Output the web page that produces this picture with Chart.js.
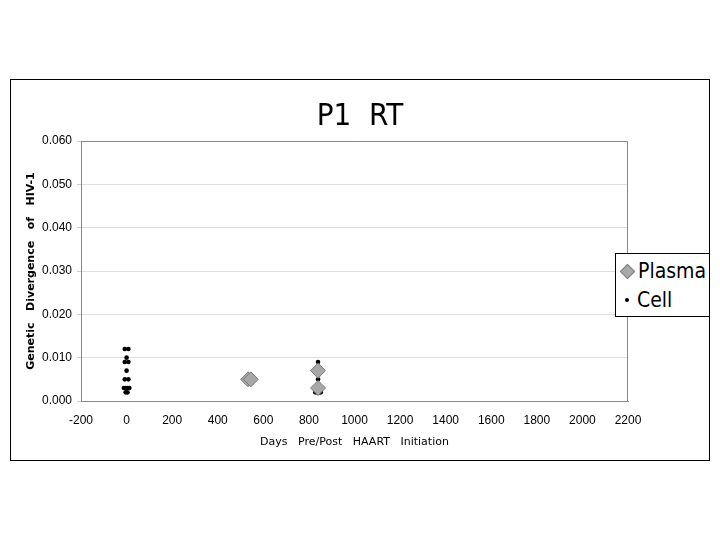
<!DOCTYPE html>
<html lang="en">
<head>
<meta charset="UTF-8">
<title>P1 RT</title>
<script src="https://cdn.jsdelivr.net/npm/chart.js"></script>
<style>
  body { margin: 0; background: #fff; width: 720px; height: 540px; position: relative; font-family: "Liberation Sans", sans-serif; }
  #box { position: absolute; left: 10px; top: 79px; width: 698px; height: 380px; border: 1px solid #000; }
  #chartWrap { position: absolute; left: 0; top: 0; width: 698px; height: 380px; }
  #title { position: absolute; left: 0; width: 698px; top: 16px; text-align: center; font-family: "Liberation Sans Narrow", "DejaVu Sans Condensed", sans-serif; font-size: 31px; color: #000; }
  #legend { position: absolute; left: 604px; top: 173px; width: 93px; height: 62px; border: 1px solid #000; background: #fff; font-family: "Liberation Sans Narrow", "DejaVu Sans Condensed", sans-serif; font-size: 21px; }
  .item { position: absolute; left: 4px; height: 24px; line-height: 24px; }
  .dia { display: inline-block; width: 9px; height: 9px; background: #a8a8a8; border: 1px solid #808080; transform: rotate(45deg); margin: 0 5px 2px 2px; vertical-align: middle; }
  .dot { display: inline-block; width: 4px; height: 4px; background: #000; border-radius: 50%; margin: 0 8px 3px 5px; vertical-align: middle; }
</style>
</head>
<body>
<div id="box">
  <div id="chartWrap"><canvas id="myChart" width="698" height="380"></canvas></div>
  <div id="title">P1&nbsp;&nbsp;RT</div>
  <div id="legend">
    <div class="item" style="top:5px"><span class="dia"></span>Plasma</div>
    <div class="item" style="top:34px"><span class="dot"></span>Cell</div>
  </div>
</div>

<script>
// datos
const plasmaDias = [533, 545, 840, 840];
const plasmaDiv  = [0.005, 0.005, 0.007, 0.003];

const cellDias = [-8, 8, 0, -8, 8, 0, -8, 8, -12, -4, 4, 12, -4, 4,
                  840, 834, 846, 840, 840, 828, 836, 844, 852];
const cellDiv  = [0.012, 0.012, 0.010, 0.009, 0.009, 0.007, 0.005, 0.005, 0.003, 0.003, 0.003, 0.003, 0.002, 0.002,
                  0.009, 0.007, 0.007, 0.005, 0.003, 0.002, 0.002, 0.002, 0.002];

const xTicks = [-200, 0, 200, 400, 600, 800, 1000, 1200, 1400, 1600, 1800, 2000, 2200];
const yTicks = [0, 0.01, 0.02, 0.03, 0.04, 0.05, 0.06];

const puntos = (xs, ys) => xs.map((x, i) => ({ x: x, y: ys[i] }));

const fuente = { family: "'Liberation Sans', sans-serif", size: 12 };
const fuenteTitulo = { family: "'DejaVu Sans', sans-serif", size: 11 };

const ctx = document.getElementById("myChart").getContext("2d");
new Chart(ctx, {
  type: "scatter",
  data: {
    datasets: [
      {
        label: "Plasma",
        data: puntos(plasmaDias, plasmaDiv),
        pointStyle: "rectRot",
        pointRadius: 7.5,
        backgroundColor: "#a8a8a8",
        borderColor: "#7a7a7a",
        borderWidth: 1
      },
      {
        label: "Cell",
        data: puntos(cellDias, cellDiv),
        pointStyle: "circle",
        pointRadius: 2.3,
        backgroundColor: "#000",
        borderColor: "#000",
        borderWidth: 0
      }
    ]
  },
  options: {
    responsive: false,
    animation: false,
    layout: { padding: { left: 14, top: 61, right: 81, bottom: 7 } },
    plugins: { legend: { display: false }, tooltip: { enabled: false }, title: { display: false } },
    scales: {
      x: {
        type: "linear",
        min: -200, max: 2200,
        afterBuildTicks: s => { s.ticks = xTicks.map(v => ({ value: v })); },
        afterFit: s => { s.height = 52; },
        ticks: { color: "#000", font: fuente, padding: 8, maxRotation: 0, callback: v => String(v) },
        grid: { display: false, drawTicks: true, tickLength: 4, tickColor: "#888" },
        border: { color: "#888" },
        title: { display: true, text: "Days   Pre/Post   HAART   Initiation", color: "#000", font: fuenteTitulo, padding: { top: 4 } }
      },
      y: {
        min: 0, max: 0.06,
        afterBuildTicks: s => { s.ticks = yTicks.map(v => ({ value: v })); },
        afterFit: s => { s.width = 56; },
        ticks: { color: "#000", font: fuente, padding: 5, callback: v => v.toFixed(3) },
        grid: { color: "#dedede", drawTicks: true, tickLength: 4, tickColor: "#ccc", borderDash: [2, 1] },
        border: { color: "#888" },
        title: { display: true, text: "Genetic   Divergence   of   HIV-1", color: "#000", font: { family: "'DejaVu Sans', sans-serif", size: 11, weight: "bold" }, padding: 0 }
      }
    }
  },
  plugins: [{
    id: "marcoDerecho",
    afterDraw(c) {
      const a = c.chartArea, g = c.ctx;
      g.save();
      g.strokeStyle = "#888";
      g.lineWidth = 1;
      g.beginPath();
      g.moveTo(a.left, a.top + 0.5);
      g.lineTo(a.right - 0.5, a.top + 0.5);
      g.lineTo(a.right - 0.5, a.bottom);
      g.stroke();
      g.restore();
    }
  }]
});
</script>
</body>
</html>
